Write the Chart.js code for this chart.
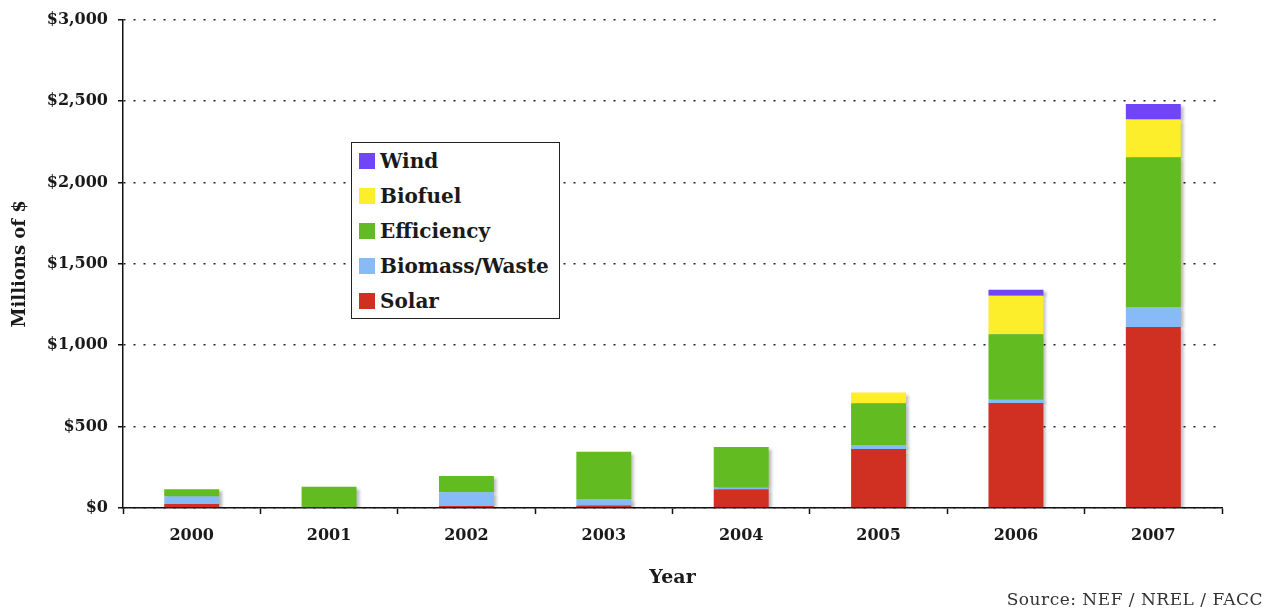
<!DOCTYPE html>
<html>
<head>
<meta charset="utf-8">
<script src="https://cdn.jsdelivr.net/npm/chart.js@4"></script>
<style>
  html, body { margin: 0; padding: 0; background: #fff; }
  #wrap { position: relative; width: 1275px; height: 613px; }
  #legend {
    position: absolute; left: 351px; top: 142px; width: 209px; height: 177px;
    border: 1.5px solid #222; background: #fff; box-sizing: border-box;
    font: bold 20px "DejaVu Serif", serif; color: #1a1a1a; padding-top: 0px;
  }
  #legend .row { display: flex; align-items: center; height: 35px; padding-left: 7px; }
  #legend .box { width: 16px; height: 16px; margin-right: 5px; }
  #source {
    position: absolute; right: 12px; top: 589px;
    font: 17px "DejaVu Serif", serif; letter-spacing: 0.5px; color: #333;
  }
</style>
</head>
<body>
<div id="wrap">
  <canvas id="chart" width="1275" height="613"></canvas>
  <div id="legend"></div>
  <div id="source">Source: NEF / NREL / FACC</div>
</div>
<script>
// Data (millions of $)
const years = ['2000', '2001', '2002', '2003', '2004', '2005', '2006', '2007'];
const solar = [25, 0, 12, 15, 115, 362, 645, 1112];
const biomass = [45, 0, 85, 40, 10, 25, 20, 123];
const efficiency = [45, 130, 100, 290, 250, 257, 403, 920];
const biofuel = [0, 0, 0, 0, 0, 65, 235, 231];
const wind = [0, 0, 0, 0, 0, 0, 37, 96];
const yTicks = [0, 500, 1000, 1500, 2000, 2500, 3000];

const seriesNames = ['Solar', 'Biomass/Waste', 'Efficiency', 'Biofuel', 'Wind'];
const seriesData = [solar, biomass, efficiency, biofuel, wind];
const seriesColors = ['#CF3021', '#86BBF8', '#63BB22', '#FDEE2C', '#6F45F5'];

// soft shadow to the right of the bars
const barShadow = {
    id: 'barShadow',
    beforeDatasetsDraw(chart) {
        const ctx = chart.ctx;
        ctx.save();
        ctx.shadowColor = 'rgba(0,0,0,0.28)';
        ctx.shadowBlur = 3;
        ctx.shadowOffsetX = 3;
        ctx.shadowOffsetY = 2;
    },
    afterDatasetsDraw(chart) {
        chart.ctx.restore();
    }
};

const tickFont = { family: 'DejaVu Serif', weight: 'bold', size: 16 };

new Chart(document.getElementById('chart').getContext('2d'), {
    type: 'bar',
    data: {
        labels: years,
        datasets: seriesNames.map((name, i) => ({
            label: name,
            data: seriesData[i],
            backgroundColor: seriesColors[i],
            borderWidth: 0,
            barPercentage: 0.4,
            categoryPercentage: 1
        }))
    },
    options: {
        responsive: false,
        animation: false,
        layout: { padding: { top: 19, right: 53, bottom: 0, left: 0 } },
        plugins: {
            legend: { display: false },
            tooltip: { enabled: false }
        },
        scales: {
            x: {
                stacked: true,
                afterFit: (scale) => { scale.height = 105; },
                grid: {
                    offset: true,
                    drawOnChartArea: false,
                    drawTicks: true,
                    tickLength: 6,
                    tickColor: '#111',
                    tickWidth: 1.5
                },
                border: { color: '#111', width: 1.5 },
                ticks: { color: '#1a1a1a', font: tickFont, padding: 12 },
                title: {
                    display: true,
                    text: 'Year',
                    color: '#1a1a1a',
                    font: { family: 'DejaVu Serif', weight: 'bold', size: 19 },
                    padding: { top: 0, bottom: 24 }
                }
            },
            y: {
                stacked: true,
                min: 0,
                max: 3000,
                afterFit: (scale) => { scale.width = 123; },
                afterBuildTicks: (scale) => { scale.ticks = yTicks.map(v => ({ value: v })); },
                grid: {
                    color: '#222',
                    lineWidth: 1.5,
                    tickLength: 5,
                    tickColor: '#111'
                },
                border: { color: '#111', width: 1.5, dash: [2, 8] },
                ticks: {
                    color: '#1a1a1a',
                    font: tickFont,
                    padding: 10,
                    callback: (v) => '$' + v.toLocaleString('en-US')
                },
                title: {
                    display: true,
                    text: 'Millions of $',
                    color: '#1a1a1a',
                    font: { family: 'DejaVu Serif', weight: 'bold', size: 18 },
                    padding: { top: 10, bottom: 0 }
                }
            }
        }
    },
    plugins: [barShadow]
});

// legend box, top to bottom: Wind ... Solar
const legendEl = document.getElementById('legend');
for (let i = seriesNames.length - 1; i >= 0; i--) {
    const row = document.createElement('div');
    row.className = 'row';
    row.innerHTML = '<span class="box" style="background:' + seriesColors[i] + '"></span>' + seriesNames[i];
    legendEl.appendChild(row);
}
</script>
</body>
</html>
